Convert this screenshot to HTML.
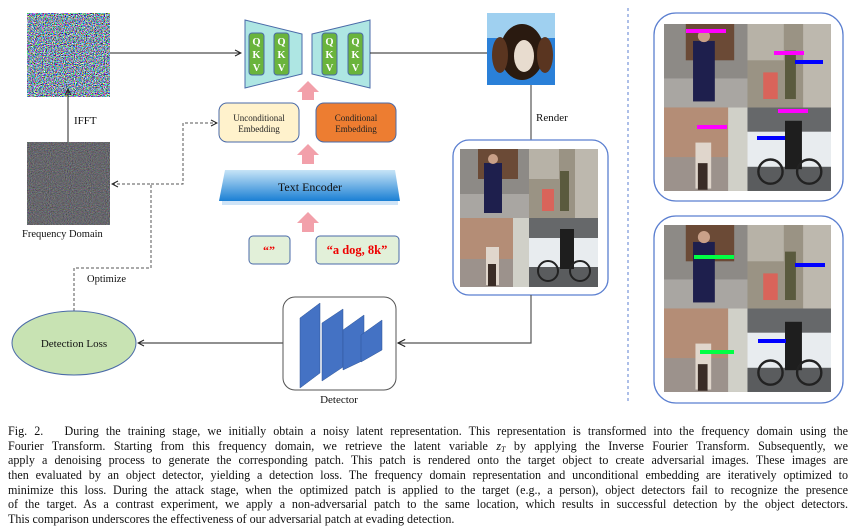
<!DOCTYPE html>
<html><head><meta charset="utf-8"><style>
html,body{margin:0;padding:0;background:#fff;width:856px;height:530px;overflow:hidden}
svg{position:absolute;left:0;top:0}
.cap{position:absolute;left:8px;width:840px;font-family:"Liberation Serif",serif;font-size:12.1px;color:#111;line-height:14.7px;top:424px}
.cap div{text-align:justify;text-align-last:justify;white-space:nowrap;height:14.7px;overflow:visible}
.cap div.l{text-align-last:left}
</style></head><body>
<svg width="856" height="530" viewBox="0 0 856 530" font-family="Liberation Serif, serif">
<defs>
<filter id="n1" x="0" y="0" width="100%" height="100%" color-interpolation-filters="sRGB"><feTurbulence type="fractalNoise" baseFrequency="0.9" numOctaves="2" seed="3"/><feColorMatrix type="matrix" values="3.2 0 0 0 -1.1  0 3.2 0 0 -1.0  0 0 3.2 0 -0.9  0 0 0 0 1"/></filter>
<filter id="n2" x="0" y="0" width="100%" height="100%" color-interpolation-filters="sRGB"><feTurbulence type="fractalNoise" baseFrequency="0.95" numOctaves="1" seed="7"/><feColorMatrix type="matrix" values="0.5 0.1 0.1 0 0.05  0.1 0.5 0.1 0 0.05  0.1 0.1 0.5 0 0.07  0 0 0 0 1"/></filter>
<linearGradient id="te" x1="0" y1="0" x2="0" y2="1"><stop offset="0" stop-color="#c7e4f7"/><stop offset="1" stop-color="#1a7fd4"/></linearGradient>
<marker id="ar" markerWidth="8" markerHeight="8" refX="7" refY="4" orient="auto"><path d="M1,1 L7,4 L1,7" fill="none" stroke="#222" stroke-width="1"/></marker>
<g id="grid">
 <rect x="0" y="0" width="69" height="69" fill="#8d8a86"/><rect x="18" y="0" width="40" height="30" fill="#6b4a36"/><rect x="0" y="45" width="69" height="24" fill="#a9a6a2"/>
 <rect x="24" y="14" width="18" height="50" fill="#1e1f4d"/><circle cx="33" cy="10" r="5" fill="#c9a088"/>
 <rect x="69" y="0" width="69" height="69" fill="#9a9384"/><rect x="69" y="0" width="30" height="30" fill="#b7b2a7"/><rect x="82" y="40" width="12" height="22" fill="#d9645a"/><rect x="100" y="22" width="9" height="40" fill="#5a5a3e"/><rect x="115" y="0" width="23" height="69" fill="#bdb8ae"/>
 <rect x="0" y="69" width="69" height="69" fill="#b48d76"/><rect x="0" y="110" width="69" height="28" fill="#9c928c"/><rect x="53" y="69" width="16" height="69" fill="#d0d0c8"/><rect x="26" y="98" width="13" height="38" fill="#e0d6cc"/><rect x="28" y="115" width="8" height="22" fill="#3a2c26"/>
 <rect x="69" y="69" width="69" height="69" fill="#e8ecef"/><rect x="69" y="69" width="69" height="20" fill="#66686a"/><rect x="69" y="118" width="69" height="20" fill="#5a5c5e"/><rect x="100" y="80" width="14" height="40" fill="#1e1e1e"/><circle cx="88" cy="122" r="10" fill="none" stroke="#222" stroke-width="2"/><circle cx="120" cy="122" r="10" fill="none" stroke="#222" stroke-width="2"/>
</g>
</defs>
<rect width="856" height="530" fill="#fff"/>
<rect x="27" y="13" width="83" height="84" fill="#777" filter="url(#n1)"/>
<line x1="110" y1="53" x2="241" y2="53" stroke="#222" stroke-width="1" marker-end="url(#ar)"/>
<polygon points="245,20 302,34 302,74 245,88" fill="#aee6e3" stroke="#4a6aa8" stroke-width="1"/>
<polygon points="312,34 370,20 370,88 312,74" fill="#aee6e3" stroke="#4a6aa8" stroke-width="1"/>
<g font-size="10.5" font-weight="bold" fill="#fff" text-anchor="middle">
<rect x="249" y="33" width="15" height="42" rx="3" fill="#6ab43c" stroke="#4a6aa8"/><text x="256.5" y="45">Q</text><text x="256.5" y="58">K</text><text x="256.5" y="71">V</text>
<rect x="274" y="33" width="15" height="42" rx="3" fill="#6ab43c" stroke="#4a6aa8"/><text x="281.5" y="45">Q</text><text x="281.5" y="58">K</text><text x="281.5" y="71">V</text>
<rect x="322" y="33" width="15" height="42" rx="3" fill="#6ab43c" stroke="#4a6aa8"/><text x="329.5" y="45">Q</text><text x="329.5" y="58">K</text><text x="329.5" y="71">V</text>
<rect x="348" y="33" width="15" height="42" rx="3" fill="#6ab43c" stroke="#4a6aa8"/><text x="355.5" y="45">Q</text><text x="355.5" y="58">K</text><text x="355.5" y="71">V</text>
</g>
<line x1="370" y1="53" x2="488" y2="53" stroke="#222" stroke-width="1"/>
<rect x="487" y="13" width="68" height="72" fill="#2a80d8"/>
<rect x="487" y="13" width="68" height="25" fill="#9fd0f0"/>
<ellipse cx="522" cy="52" rx="22" ry="28" fill="#2a1a10"/><ellipse cx="524" cy="56" rx="10" ry="16" fill="#e8dccf"/><ellipse cx="500" cy="55" rx="8" ry="18" fill="#5a3520"/><ellipse cx="545" cy="55" rx="8" ry="18" fill="#5a3520"/>
<g fill="#f2a0aa"><polygon points="302,100 302,92 297,92 308,81 319,92 314,92 314,100"/><polygon points="302,164 302,155 297,155 308,144 319,155 314,155 314,164"/><polygon points="302,232 302,223 297,223 308,212 319,223 314,223 314,232"/></g>
<rect x="219" y="103" width="80" height="39" rx="8" fill="#fff2cc" stroke="#4a6aa8"/>
<text x="259" y="121" font-size="9" text-anchor="middle" fill="#222">Unconditional</text><text x="259" y="132" font-size="9" text-anchor="middle" fill="#222">Embedding</text>
<rect x="316" y="103" width="80" height="39" rx="8" fill="#ed7d31" stroke="#4a6aa8"/>
<text x="356" y="121" font-size="9" text-anchor="middle" fill="#222">Conditional</text><text x="356" y="132" font-size="9" text-anchor="middle" fill="#222">Embedding</text>
<polygon points="225,170 395,170 400,201 219,201" fill="url(#te)"/>
<rect x="222" y="201" width="176" height="4" fill="#cfe4f7"/>
<text x="310" y="191" font-size="12" text-anchor="middle" fill="#111">Text Encoder</text>
<rect x="249" y="236" width="41" height="28" rx="4" fill="#e2f0d9" stroke="#4a6aa8"/>
<text x="269" y="254" font-size="12" font-weight="bold" text-anchor="middle" fill="#e00">“”</text>
<rect x="316" y="236" width="83" height="28" rx="4" fill="#e2f0d9" stroke="#4a6aa8"/>
<text x="357" y="254" font-size="12.5" font-weight="bold" text-anchor="middle" fill="#e00">“a dog, 8k”</text>
<line x1="68" y1="142" x2="68" y2="89" stroke="#222" marker-end="url(#ar)"/>
<text x="74" y="124" font-size="11" fill="#111">IFFT</text>
<rect x="27" y="142" width="83" height="83" fill="#777" filter="url(#n2)"/>
<text x="22" y="237" font-size="10.5" fill="#111">Frequency Domain</text>
<g stroke="#555" stroke-width="1" stroke-dasharray="3,2" fill="none">
<polyline points="74,311 74,268 151,268 151,184 112,184" marker-end="url(#ar)"/>
<polyline points="151,184 183,184 183,123 217,123" marker-end="url(#ar)"/>
</g>
<text x="87" y="282" font-size="10.5" fill="#111">Optimize</text>
<ellipse cx="74" cy="343" rx="62" ry="32" fill="#c8e3b3" stroke="#4a6aa8"/>
<text x="74" y="347" font-size="11" text-anchor="middle" fill="#111">Detection Loss</text>
<line x1="283" y1="343" x2="138" y2="343" stroke="#222" marker-end="url(#ar)"/>
<rect x="283" y="297" width="113" height="93" rx="12" fill="#fff" stroke="#555"/>
<g fill="#4472c4" stroke="#2f5597" stroke-width="0.5">
<polygon points="300,318 320,303 320,373 300,388" /><polygon points="322,323 343,309 343,367 322,381"/><polygon points="343,330 364,315 364,360 343,370"/><polygon points="361,335 382,320 382,350 361,362"/>
</g>
<text x="339" y="403" font-size="11" text-anchor="middle" fill="#111">Detector</text>
<polyline points="531,85 531,140" stroke="#555" fill="none" stroke-width="1.2"/>
<text x="536" y="121" font-size="11" fill="#111">Render</text>
<rect x="453" y="140" width="155" height="155" rx="16" fill="#fff" stroke="#5b7fd0" stroke-width="1.3"/>
<use href="#grid" transform="translate(460,149)"/>
<polyline points="531,295 531,343 398,343" stroke="#555" fill="none" stroke-width="1.2" marker-end="url(#ar)"/>
<line x1="628" y1="8" x2="628" y2="402" stroke="#5b7fd0" stroke-dasharray="3,3"/>
<rect x="654" y="13" width="189" height="188" rx="22" fill="#fff" stroke="#5b7fd0" stroke-width="1.3"/>
<g transform="translate(664,24) scale(1.21)"><use href="#grid"/></g>
<g><rect x="686" y="29" width="40" height="4" fill="#ff00ff"/><rect x="774" y="51" width="30" height="4" fill="#ff00ff"/><rect x="795" y="60" width="28" height="4" fill="#0000ff"/><rect x="697" y="125" width="30" height="4" fill="#ff00ff"/><rect x="778" y="109" width="30" height="4" fill="#ff00ff"/><rect x="757" y="136" width="28" height="4" fill="#0000ff"/></g>
<rect x="654" y="216" width="189" height="187" rx="22" fill="#fff" stroke="#5b7fd0" stroke-width="1.3"/>
<g transform="translate(664,225) scale(1.21)"><use href="#grid"/></g>
<g><rect x="694" y="255" width="40" height="4" fill="#00ff44"/><rect x="795" y="263" width="30" height="4" fill="#0000ff"/><rect x="700" y="350" width="34" height="4" fill="#00ff44"/><rect x="758" y="339" width="28" height="4" fill="#0000ff"/></g>
</svg>
<div class="cap">
<div>Fig. 2.&nbsp;&nbsp; During the training stage, we initially obtain a noisy latent representation. This representation is transformed into the frequency domain using the</div>
<div>Fourier Transform. Starting from this frequency domain, we retrieve the latent variable <i>z<span style="font-size:8px;position:relative;top:2px">T</span></i> by applying the Inverse Fourier Transform. Subsequently, we</div>
<div>apply a denoising process to generate the corresponding patch. This patch is rendered onto the target object to create adversarial images. These images are</div>
<div>then evaluated by an object detector, yielding a detection loss. The frequency domain representation and unconditional embedding are iteratively optimized to</div>
<div>minimize this loss. During the attack stage, when the optimized patch is applied to the target (e.g., a person), object detectors fail to recognize the presence</div>
<div>of the target. As a contrast experiment, we apply a non-adversarial patch to the same location, which results in successful detection by the object detectors.</div>
<div class="l">This comparison underscores the effectiveness of our adversarial patch at evading detection.</div>
</div>
</body></html>
